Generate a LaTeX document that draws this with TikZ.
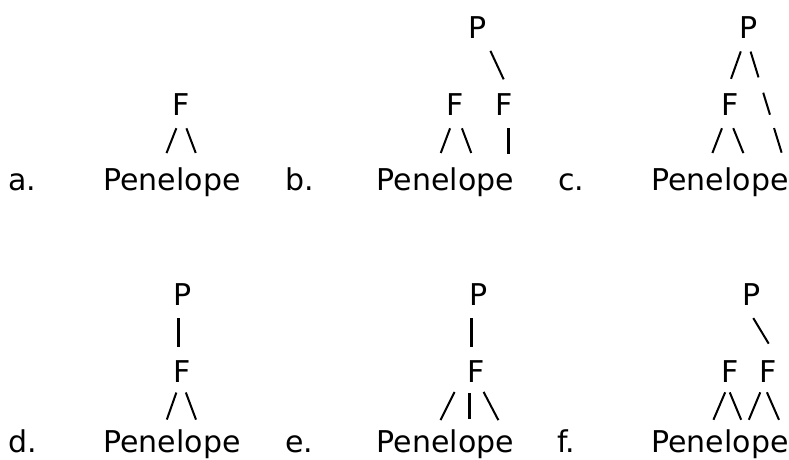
\documentclass[tikz,border=0pt]{standalone}
\usepackage{fontspec}
\newfontfamily\treefont{DejaVu Sans}
\usepackage{tikz}

\begin{document}
\begin{tikzpicture}[x=1pt,y=-1pt,
    every node/.style={font=\treefont\fontsize{30}{36}\selectfont,inner sep=0pt},
    lbl/.style={anchor=base west},
    sym/.style={anchor=base},
    link/.style={line width=2pt,shorten <=14pt,shorten >=15pt},
    short/.style={shorten <=11pt,shorten >=10pt},
    bar/.style={line width=3pt,shorten <=13pt,shorten >=13pt}]
  \useasboundingbox (0,0) rectangle (789,460);

  % a. one foot
  \node[lbl] (la) at (8,190) {a.};
  \node[sym] (Fa) at (181.5,115) {F};
  \node[sym] (Pena) at (172,190) {Penelope};
  \draw[link] (Fa.south) -- ([xshift=-11pt]Pena.north);
  \draw[link] (Fa.south) -- ([xshift=29pt]Pena.north);

  % b. two feet under P
  \node[lbl] (lb) at (285,190) {b.};
  \node[sym] (Pb) at (477.5,38) {P};
  \node[sym] (Fb1) at (455,115) {F};
  \node[sym] (Fb2) at (504,115) {F};
  \node[sym] (Penb) at (445.5,190) {Penelope};
  \draw[link] ([xshift=7pt]Pb.south) -- ([xshift=6pt]Fb2.north);
  \draw[link] (Fb1.south) -- ([xshift=-10pt]Penb.north);
  \draw[link] ([xshift=2pt]Fb1.south) -- ([xshift=31pt]Penb.north);
  \draw[bar] ([xshift=4pt]Fb2.south) -- ([xshift=62.5pt]Penb.north);

  % c. P over F and a stray syllable
  \node[lbl] (lc) at (558,190) {c.};
  \node[sym] (Pc) at (748.5,38) {P};
  \node[sym] (Fc) at (730,115) {F};
  \node[sym] (Penc) at (720,190) {Penelope};
  \draw[link] ([xshift=-3pt]Pc.south) -- ([xshift=-4pt]Fc.north);
  \draw[link,dash pattern=on 27pt off 16pt on 23pt off 14pt]
    ([xshift=-2pt]Pc.south) -- ([xshift=66pt]Penc.north);
  \draw[link] ([xshift=-3pt]Fc.south) -- ([xshift=-13pt]Penc.north);
  \draw[link] ([xshift=-2pt]Fc.south) -- ([xshift=29pt]Penc.north);

  % d. P over one foot
  \node[lbl] (ld) at (8,452) {d.};
  \node[sym] (Pd) at (183,305) {P};
  \node[sym] (Fd) at (182,382) {F};
  \node[sym] (Pend) at (172,452) {Penelope};
  \draw[bar] ([xshift=-5pt]Pd.south) -- ([xshift=-4pt]Fd.north);
  \draw[link,short] ([xshift=-2pt]Fd.south) -- ([xshift=-8.5pt]Pend.north);
  \draw[link,short] (Fd.south) -- ([xshift=27.5pt]Pend.north);

  % e. ternary foot
  \node[lbl] (le) at (285,452) {e.};
  \node[sym] (Pe) at (478.5,305) {P};
  \node[sym] (Fe) at (476.5,382) {F};
  \node[sym] (Pene) at (445.5,452) {Penelope};
  \draw[bar] ([xshift=-7pt]Pe.south) -- ([xshift=-5pt]Fe.north);
  \draw[link,short] ([xshift=-17pt]Fe.south) -- ([xshift=-9.5pt]Pene.north);
  \draw[bar,short] ([xshift=-7.5pt]Fe.south) -- ([xshift=23.5pt]Pene.north);
  \draw[link,short] ([xshift=2pt]Fe.south) -- ([xshift=57.5pt]Pene.north);

  % f. two binary feet
  \node[lbl] (lf) at (557,452) {f.};
  \node[sym] (Pf) at (751.5,305) {P};
  \node[sym] (Ff1) at (730,382) {F};
  \node[sym] (Ff2) at (768.5,382) {F};
  \node[sym] (Penf) at (720,452) {Penelope};
  \draw[link,shorten <=15pt,shorten >=19pt] ([xshift=-6pt]Pf.south) -- ([xshift=10pt]Ff2.north);
  \draw[link,short] ([xshift=-0.5pt]Ff1.south) -- ([xshift=-10.5pt]Penf.north);
  \draw[link,short] ([xshift=-4.5pt]Ff1.south) -- ([xshift=25pt]Penf.north);
  \draw[link,short] ([xshift=-4pt]Ff2.south) -- ([xshift=25pt]Penf.north);
  \draw[link,short] ([xshift=-6pt]Ff2.south) -- ([xshift=63pt]Penf.north);
\end{tikzpicture}
\end{document}
